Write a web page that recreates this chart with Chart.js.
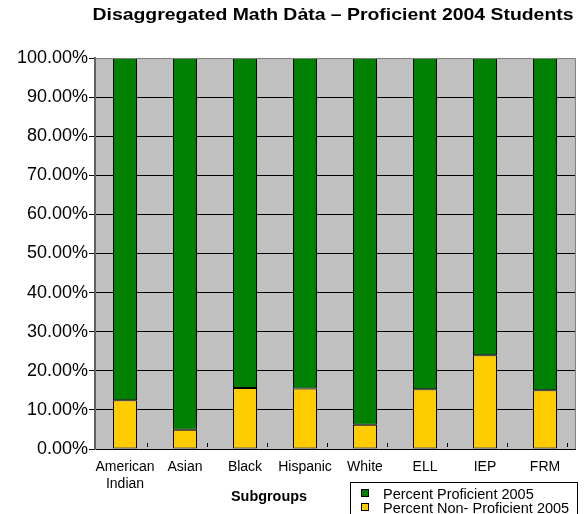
<!DOCTYPE html>
<html lang="en">
<head>
  <meta charset="UTF-8" />
  <title>Disaggregated Math Data</title>
  <script src="https://cdn.jsdelivr.net/npm/chart.js"></script>
  <style>
    body { margin: 0; background: #fff; }
    .chart-container { width: 584px; height: 514px; position: relative; }
  </style>
</head>
<body>
  <div class="chart-container">
    <canvas id="mathChart" width="584" height="514"></canvas>
  </div>

  <script>
    // data
    const subgroups = [["American", "Indian"], "Asian", "Black", "Hispanic", "White", "ELL", "IEP", "FRM"];
    const nonProficient = [12.5, 4.9, 15.6, 15.5, 6.2, 15.3, 24.0, 15.0];
    const proficient = [87.5, 95.1, 84.4, 84.5, 93.8, 84.7, 76.0, 85.0];
    const seriesNames = ["Percent Proficient 2005", "Percent Non- Proficient 2005"];
    const yTicks = [0, 10, 20, 30, 40, 50, 60, 70, 80, 90, 100];

    const FONT = "'Liberation Sans', Arial, sans-serif";

    // draw text squeezed/stretched to a given width (the original is stretched)
    function fitText(ctx, text, cx, cy, width) {
      const w = ctx.measureText(text).width;
      ctx.save();
      ctx.translate(cx, cy);
      ctx.scale(width / w, 1);
      ctx.textAlign = "center";
      ctx.fillText(text, 0, 0);
      ctx.restore();
    }

    // gray plot background, title, axis title and boxed legend
    const decor = {
      id: "decor",
      beforeDraw(chart) {
        const { ctx, chartArea: a } = chart;
        ctx.save();
        ctx.fillStyle = "#c0c0c0";
        ctx.fillRect(a.left, a.top, a.right - a.left, a.bottom - a.top);
        ctx.restore();
      },
      afterDraw(chart) {
        const { ctx, chartArea: a } = chart;
        const x = chart.scales.x;
        ctx.save();
        // frame on top / right
        ctx.strokeStyle = "#808080";
        ctx.lineWidth = 1;
        ctx.beginPath();
        ctx.moveTo(a.left, a.top + 0.5);
        ctx.lineTo(a.right + 0.5, a.top + 0.5);
        ctx.lineTo(a.right + 0.5, a.bottom);
        ctx.stroke();

        // the little marks next to each bar at the bottom
        ctx.strokeStyle = "#000";
        ctx.beginPath();
        subgroups.forEach((_, i) => {
          const px = Math.round(x.getPixelForValue(i) + 22) + 0.5;
          ctx.moveTo(px, a.bottom - 6);
          ctx.lineTo(px, a.bottom - 2);
        });
        ctx.stroke();

        ctx.fillStyle = "#000";
        ctx.textBaseline = "middle";
        ctx.font = "bold 17px " + FONT;
        fitText(ctx, "Disaggregated Math D\u0227ta \u2013 Proficient 2004 Students", 333, 15, 481);

        ctx.font = "bold 14px " + FONT;
        fitText(ctx, "Subgroups", 269, 497, 76);

        // legend
        ctx.strokeStyle = "#000";
        ctx.strokeRect(350.5, 482.5, 227, 40);
        ctx.font = "14.5px " + FONT;
        ctx.textAlign = "left";
        const rows = [494, 508];
        chart.data.datasets.slice().reverse().forEach((ds, i) => {
          ctx.fillStyle = ds.backgroundColor;
          ctx.fillRect(362, rows[i] - 4, 6, 6);
          ctx.strokeStyle = "#000";
          ctx.strokeRect(361.5, rows[i] - 4.5, 7, 7);
          ctx.fillStyle = "#000";
          ctx.fillText(ds.label, 383, rows[i] + 1);
        });
        ctx.restore();
      }
    };

    new Chart(document.getElementById("mathChart"), {
      type: "bar",
      data: {
        labels: subgroups,
        datasets: [
          {
            label: seriesNames[1],
            data: nonProficient,
            backgroundColor: "#ffcc00",
            borderColor: "#000",
            borderWidth: 1,
            borderSkipped: false,
            barPercentage: 0.4,
            categoryPercentage: 1
          },
          {
            label: seriesNames[0],
            data: proficient,
            backgroundColor: "#008000",
            borderColor: "#000",
            borderWidth: 1,
            borderSkipped: false,
            barPercentage: 0.4,
            categoryPercentage: 1
          }
        ]
      },
      options: {
        responsive: false,
        animation: false,
        layout: { padding: { top: 58, right: 9, left: 0, bottom: 0 } },
        plugins: {
          legend: { display: false },
          title: { display: false },
          tooltip: { enabled: false }
        },
        scales: {
          x: {
            stacked: true,
            grid: { display: false, drawTicks: false },
            border: { color: "#000", width: 1 },
            ticks: {
              color: "#000",
              font: { family: FONT, size: 14 },
              padding: 10,
              maxRotation: 0,
              autoSkip: false
            },
            afterFit(scale) { scale.height = 65; }
          },
          y: {
            stacked: true,
            min: 0,
            max: 100,
            afterBuildTicks(scale) { scale.ticks = yTicks.map(v => ({ value: v })); },
            grid: { color: "#000", lineWidth: 1, tickLength: 6 },
            border: { color: "#606060", width: 2 },
            ticks: {
              color: "#000",
              font: { family: FONT, size: 18 },
              padding: 1,
              callback: v => v.toFixed(2) + "%"
            },
            afterFit(scale) { scale.width = 95; }
          }
        }
      },
      plugins: [decor]
    });
  </script>
</body>
</html>
